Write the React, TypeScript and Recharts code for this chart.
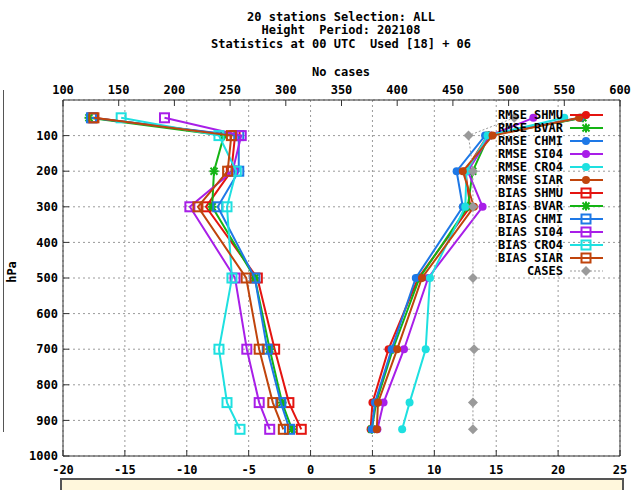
import React from 'react';
import { ComposedChart, Scatter, XAxis, YAxis, CartesianGrid, Legend } from 'recharts';

// Pressure levels (hPa) of the vertical profile
const levels = [50, 100, 200, 300, 500, 700, 850, 925];

// RMSE per station group
const rmseShmu = [21.9, 14.3, 12.5, 12.9, 8.7, 6.3, 5.0, 4.85];
const rmseBvar = [22.0, 14.4, 13.1, 12.7, 8.8, 6.65, 5.3, 4.95];
const rmseChmi = [21.8, 14.1, 11.8, 12.3, 8.5, 6.55, 5.2, 4.95];
const rmseSi04 = [18.0, 14.5, 12.7, 13.9, 9.5, 7.55, 5.9, 5.4];
const rmseCro4 = [20.5, 14.3, 12.6, 12.5, 9.65, 9.3, 8.0, 7.4];
const rmseSiar = [21.7, 14.7, 12.3, 13.2, 9.0, 7.0, 5.45, 5.35];

// BIAS per station group
const biasShmu = [-17.6, -6.1, -6.4, -8.45, -4.3, -2.9, -1.75, -0.75];
const biasBvar = [-17.9, -7.0, -7.8, -7.95, -4.5, -3.3, -2.3, -1.5];
const biasChmi = [-17.7, -5.8, -5.8, -7.5, -4.5, -3.5, -2.4, -1.7];
const biasSi04 = [-11.8, -5.6, -6.3, -9.75, -6.1, -5.15, -4.15, -3.3];
const biasCro4 = [-15.3, -7.4, -6.0, -6.75, -6.35, -7.4, -6.75, -5.7];
const biasSiar = [-17.5, -6.4, -6.7, -9.1, -5.2, -4.15, -3.05, -2.2];

// Number of cases (top axis)
const cases = [505, 464, 468, 468, 468, 469, 468, 468];

// Axis ticks
const statTicks = [-20, -15, -10, -5, 0, 5, 10, 15, 20, 25];
const caseTicks = [100, 150, 200, 250, 300, 350, 400, 450, 500, 550, 600];
const pressureTicks = [100, 200, 300, 400, 500, 600, 700, 800, 900, 1000];

const titleLines = ['20 stations Selection: ALL', 'Height  Period: 202108', 'Statistics at 00 UTC  Used [18] + 06'];

const RED = '#e41410';
const GREEN = '#14b414';
const BLUE = '#1e78e6';
const PURPLE = '#a81ee8';
const CYAN = '#1ee0e0';
const BROWN = '#c0440c';
const GREY = '#9a9a9a';

type Marker = 'dot' | 'square' | 'star' | 'diamond';
type Series = { name: string; values: number[]; color: string; marker: Marker; axis: 'b' | 't'; dotted?: boolean };

const series: Series[] = [
  { name: 'RMSE SHMU', values: rmseShmu, color: RED, marker: 'dot', axis: 'b' },
  { name: 'RMSE BVAR', values: rmseBvar, color: GREEN, marker: 'star', axis: 'b' },
  { name: 'RMSE CHMI', values: rmseChmi, color: BLUE, marker: 'dot', axis: 'b' },
  { name: 'RMSE SI04', values: rmseSi04, color: PURPLE, marker: 'dot', axis: 'b' },
  { name: 'RMSE CRO4', values: rmseCro4, color: CYAN, marker: 'dot', axis: 'b' },
  { name: 'RMSE SIAR', values: rmseSiar, color: BROWN, marker: 'dot', axis: 'b' },
  { name: 'BIAS SHMU', values: biasShmu, color: RED, marker: 'square', axis: 'b' },
  { name: 'BIAS BVAR', values: biasBvar, color: GREEN, marker: 'star', axis: 'b' },
  { name: 'BIAS CHMI', values: biasChmi, color: BLUE, marker: 'square', axis: 'b' },
  { name: 'BIAS SI04', values: biasSi04, color: PURPLE, marker: 'square', axis: 'b' },
  { name: 'BIAS CRO4', values: biasCro4, color: CYAN, marker: 'square', axis: 'b' },
  { name: 'BIAS SIAR', values: biasSiar, color: BROWN, marker: 'square', axis: 'b' },
  { name: 'CASES', values: cases, color: GREY, marker: 'diamond', axis: 't', dotted: true },
];

const FONT = '"DejaVu Sans Mono", "Liberation Mono", monospace';
const tickStyle = { fontSize: 12, fontFamily: FONT, fontWeight: 'bold', fill: '#000' };

function drawMarker(kind: Marker, color: string, cx: number, cy: number) {
  switch (kind) {
    case 'dot':
      return <circle cx={cx} cy={cy} r={4} fill={color} />;
    case 'square':
      return <rect x={cx - 4.5} y={cy - 4.5} width={9} height={9} fill="none" stroke={color} strokeWidth={2} />;
    case 'star':
      return (
        <g stroke={color} strokeWidth={2}>
          <line x1={cx - 4.5} y1={cy} x2={cx + 4.5} y2={cy} />
          <line x1={cx} y1={cy - 4.5} x2={cx} y2={cy + 4.5} />
          <line x1={cx - 3.5} y1={cy - 3.5} x2={cx + 3.5} y2={cy + 3.5} />
          <line x1={cx - 3.5} y1={cy + 3.5} x2={cx + 3.5} y2={cy - 3.5} />
        </g>
      );
    default:
      return <polygon points={`${cx},${cy - 5} ${cx + 5},${cy} ${cx},${cy + 5} ${cx - 5},${cy}`} fill={color} />;
  }
}

const LegendBox = () => (
  <svg width={135} height={180} style={{ overflow: 'visible', display: 'block' }}>
    {series.map((s, i) => {
      const y = 7 + i * 13;
      return (
        <g key={s.name}>
          <text x={73} y={y} textAnchor="end" dominantBaseline="central" style={{ fontSize: 12, fontFamily: FONT, fontWeight: 'bold', fill: '#000' }}>
            {s.name}
          </text>
          <line x1={80} x2={113} y1={y} y2={y} stroke={s.color} strokeWidth={s.dotted ? 1 : 2} strokeDasharray={s.dotted ? '2 2' : undefined} />
          {drawMarker(s.marker, s.color, 96, y)}
        </g>
      );
    })}
  </svg>
);

const textBase: React.CSSProperties = {
  position: 'absolute',
  fontFamily: FONT,
  fontWeight: 'bold',
  fontSize: 12,
  color: '#000',
  whiteSpace: 'pre',
  lineHeight: '14px',
};

export default function App() {
  return (
    <div style={{ position: 'absolute', left: 0, top: 0, width: 635, height: 490, background: '#fff', overflow: 'hidden' }}>
      {titleLines.map((t, i) => (
        <div key={t} style={{ ...textBase, left: 341, top: 10 + i * 13.3, transform: 'translateX(-50%)' }}>
          {t}
        </div>
      ))}
      <div style={{ ...textBase, left: 341, top: 65, transform: 'translateX(-50%)' }}>No cases</div>
      <div style={{ ...textBase, left: 12, top: 272, transform: 'translate(-50%, -50%) rotate(-90deg)' }}>hPa</div>
      <div style={{ position: 'absolute', left: 3, top: 90, width: 1, height: 342, background: '#555' }} />
      <div style={{ position: 'absolute', left: 60, top: 478, width: 560, height: 30, background: '#fff7dc', border: '2px solid #555' }} />
      <div style={{ position: 'absolute', left: 0, top: 0 }}>
        <ComposedChart width={635} height={490} margin={{ top: 80, right: 14, bottom: 4, left: 23 }}>
          <CartesianGrid xAxisId="b" yAxisId="l" stroke="#9a9a9a" strokeDasharray="2 3" />
          <XAxis
            xAxisId="b"
            type="number"
            dataKey="x"
            orientation="bottom"
            domain={[-20, 25]}
            ticks={statTicks}
            interval={0}
            allowDataOverflow
            height={30}
            tickSize={-6}
            tickMargin={15}
            tick={tickStyle}
            stroke="#333"
          />
          <XAxis
            xAxisId="t"
            type="number"
            dataKey="x"
            orientation="top"
            domain={[100, 600]}
            ticks={caseTicks}
            interval={0}
            allowDataOverflow
            height={20}
            tickSize={-6}
            tickMargin={12}
            tick={tickStyle}
            stroke="#333"
          />
          <YAxis
            yAxisId="l"
            type="number"
            dataKey="p"
            domain={[0, 1000]}
            reversed
            ticks={pressureTicks}
            interval={0}
            allowDataOverflow
            width={40}
            tickSize={-6}
            tickMargin={11}
            tick={tickStyle}
            stroke="#333"
          />
          <YAxis
            yAxisId="r"
            orientation="right"
            type="number"
            dataKey="p"
            domain={[0, 1000]}
            reversed
            ticks={pressureTicks}
            interval={0}
            allowDataOverflow
            width={1}
            tickSize={-6}
            tick={false}
            stroke="#333"
          />
          {series.map((s) => (
            <Scatter
              key={s.name}
              name={s.name}
              data={s.values.map((v, i) => ({ x: v, p: levels[i] }))}
              xAxisId={s.axis}
              yAxisId="l"
              fill={s.color}
              line={{ stroke: s.color, strokeWidth: s.dotted ? 1 : 2, strokeDasharray: s.dotted ? '2 2' : undefined }}
              lineType="joint"
              shape={(props: any) => drawMarker(s.marker, s.color, props.cx, props.cy)}
              isAnimationActive={false}
            />
          ))}
          <Legend
            content={LegendBox}
            layout="horizontal"
            verticalAlign="middle"
            align="center"
            wrapperStyle={{ position: 'absolute', left: 490, top: 108, width: 135, height: 180 }}
          />
        </ComposedChart>
      </div>
    </div>
  );
}
